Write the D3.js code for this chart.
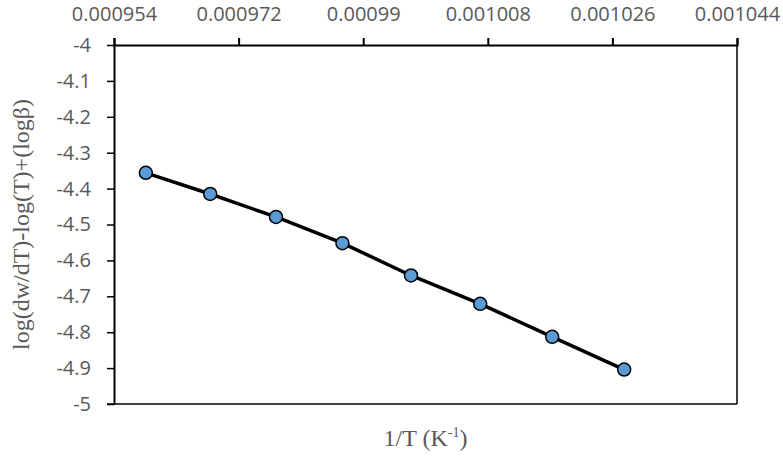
<!DOCTYPE html>
<html>
<head>
<meta charset="utf-8">
<script src="https://cdn.jsdelivr.net/npm/d3@7"></script>
<style>
  body { margin: 0; background: #fff; }
  svg { display: block; }
  .tick text { fill: #595959; font-family: "Open Sans", sans-serif; font-size: 20px; }
  .axis-title { fill: #595959; font-family: "Liberation Serif", serif; font-size: 24px; }
</style>
</head>
<body>
<svg width="783" height="458"></svg>
<script>
const invT = [0.0009586, 0.0009679, 0.0009774, 0.0009870, 0.0009969, 0.0010069, 0.0010173, 0.0010277];
const logValues = [-4.356, -4.415, -4.479, -4.552, -4.642, -4.721, -4.813, -4.904];
const xTicks = [0.000954, 0.000972, 0.00099, 0.001008, 0.001026, 0.001044];
const yTicks = [-4, -4.1, -4.2, -4.3, -4.4, -4.5, -4.6, -4.7, -4.8, -4.9, -5];

const svg = d3.select("svg");
const margin = { top: 45, right: 46, bottom: 54, left: 114 };
const width = 783 - margin.left - margin.right;
const height = 458 - margin.top - margin.bottom;

const g = svg.append("g").attr("transform", `translate(${margin.left},${margin.top})`);

const x = d3.scaleLinear().domain([0.000954, 0.001044]).range([0, width]);
const y = d3.scaleLinear().domain([-5, -4]).range([height, 0]);

// right and bottom borders of the plot
g.append("line")
    .attr("x1", width).attr("x2", width)
    .attr("y1", 0).attr("y2", height)
    .attr("stroke", "#000").attr("stroke-width", 1.5);

g.append("line")
    .attr("x1", -7).attr("x2", width)
    .attr("y1", height).attr("y2", height)
    .attr("stroke", "#000").attr("stroke-width", 1.5);

const xAxis = g.append("g")
    .call(d3.axisTop(x).tickValues(xTicks).tickFormat(d => String(+d.toFixed(6)))
        .tickSize(7).tickSizeOuter(7).tickPadding(17));
xAxis.select(".domain").attr("stroke", "#000").attr("stroke-width", 2);
xAxis.selectAll(".tick line").attr("stroke", "#000").attr("stroke-width", 2);

const yAxis = g.append("g")
    .call(d3.axisLeft(y).tickValues(yTicks).tickFormat(d => String(+d.toFixed(1)))
        .tickSize(7).tickSizeOuter(0).tickPadding(16));
yAxis.select(".domain").attr("stroke", "#000").attr("stroke-width", 2);
yAxis.selectAll(".tick line").attr("stroke", "#000").attr("stroke-width", 1.5);

const pts = invT.map((v, i) => ({ x: v, y: logValues[i] }));

g.append("path")
    .datum(pts)
    .attr("fill", "none")
    .attr("stroke", "#000")
    .attr("stroke-width", 3.5)
    .attr("d", d3.line().x(d => x(d.x)).y(d => y(d.y)));

g.selectAll("circle")
    .data(pts)
    .enter()
    .append("circle")
    .attr("cx", d => x(d.x))
    .attr("cy", d => y(d.y))
    .attr("r", 6.5)
    .attr("fill", "#5b9bd5")
    .attr("stroke", "#000")
    .attr("stroke-width", 1.5);

const xt = svg.append("text")
    .attr("class", "axis-title")
    .attr("x", margin.left + width / 2)
    .attr("y", 446)
    .attr("text-anchor", "middle");
xt.append("tspan").text("1/T (K");
xt.append("tspan").attr("font-size", "14px").attr("dy", "-9").text("-1");
xt.append("tspan").attr("dy", "9").text(")");

svg.append("text")
    .attr("class", "axis-title")
    .attr("transform", `translate(29,${margin.top + height / 2}) rotate(-90)`)
    .attr("text-anchor", "middle")
    .text("log(dw/dT)-log(T)+(logβ)");
</script>
</body>
</html>
